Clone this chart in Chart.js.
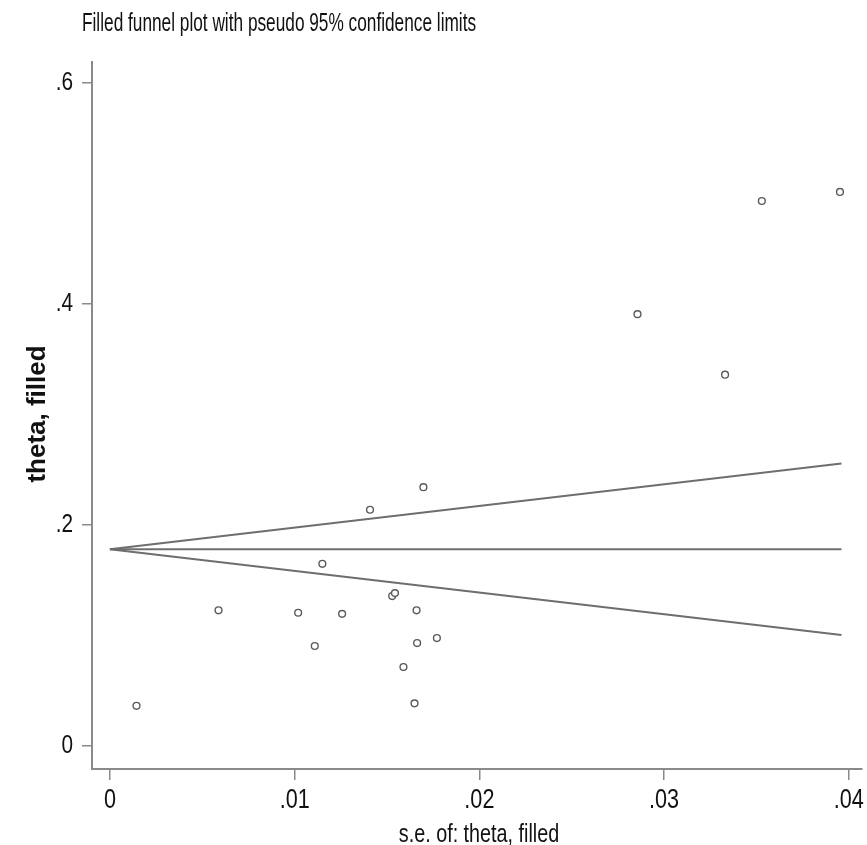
<!DOCTYPE html>
<html>
<head>
<meta charset="utf-8">
<script src="https://cdn.jsdelivr.net/npm/chart.js@4.4.1/dist/chart.umd.min.js"></script>
<style>
html,body{margin:0;padding:0;background:#fff;}
#wrap{width:867px;height:845px;position:relative;}
</style>
</head>
<body>
<div id="wrap"><canvas id="c" width="867" height="845"></canvas></div>
<script>
// ---- data ----
const seValues    = [0.00144, 0.00588, 0.01019, 0.01109, 0.01150, 0.01257, 0.01408, 0.01528, 0.01543, 0.01589, 0.01660, 0.01663, 0.01649, 0.01697, 0.01770, 0.02856, 0.03330, 0.03529, 0.03952];
const thetaValues = [0.0364, 0.1228, 0.1206, 0.0905, 0.1649, 0.1196, 0.2138, 0.1357, 0.1384, 0.0715, 0.1228, 0.0932, 0.0386, 0.2342, 0.0977, 0.3908, 0.3360, 0.4932, 0.5014];
const limitSe     = [0, 0.0396];
const centerTheta = [0.178, 0.178];
const upperLimit  = [0.178, 0.2556];
const lowerLimit  = [0.178, 0.1004];
const xTicks = [0, 0.01, 0.02, 0.03, 0.04];
const xTickLabels = ['0', '.01', '.02', '.03', '.04'];
const yTicks = [0, 0.2, 0.4, 0.6];
const yTickLabels = ['0', '.2', '.4', '.6'];
const titleText = 'Filled funnel plot with pseudo 95% confidence limits';
const xTitle = 's.e. of: theta, filled';
const yTitle = 'theta, filled';

const FONT = "'Liberation Sans', Arial, sans-serif";

const pts = seValues.map((x, i) => ({x, y: thetaValues[i]}));
const line = (ys) => limitSe.map((x, i) => ({x, y: ys[i]}));

// draws text horizontally condensed (like the stretched Stata export)
function drawText(ctx, text, x, y, opts) {
  ctx.save();
  ctx.font = (opts.weight || 'normal') + ' ' + opts.size + 'px ' + FONT;
  ctx.fillStyle = opts.color || '#111';
  ctx.textBaseline = opts.baseline || 'alphabetic';
  ctx.textAlign = opts.align || 'left';
  ctx.translate(x, y);
  if (opts.rotate) ctx.rotate(opts.rotate);
  ctx.scale(opts.sx || 1, 1);
  ctx.fillText(text, 0, 0);
  ctx.restore();
}

const textPlugin = {
  id: 'stataText',
  afterDraw(chart) {
    const ctx = chart.ctx;
    const xs = chart.scales.x, ys = chart.scales.y;
    // title
    drawText(ctx, titleText, 82, 31, {size: 25, sx: 0.69});
    // y tick labels
    yTicks.forEach((v, i) => {
      drawText(ctx, yTickLabels[i], 73, ys.getPixelForValue(v), {size: 26, sx: 0.8, align: 'right', baseline: 'middle'});
    });
    // x tick labels
    xTicks.forEach((v, i) => {
      drawText(ctx, xTickLabels[i], xs.getPixelForValue(v), 808, {size: 27, sx: 0.8, align: 'center'});
    });
    // x axis title
    drawText(ctx, xTitle, 479, 842, {size: 26, sx: 0.76, align: 'center'});
    // y axis title
    drawText(ctx, yTitle, 45, 414, {size: 26, weight: 'bold', align: 'center', rotate: -Math.PI / 2});
  }
};

new Chart(document.getElementById('c'), {
  type: 'scatter',
  data: {
    datasets: [
      { label: 'studies', data: pts, pointStyle: 'circle', pointRadius: 3.4, pointBorderWidth: 1.4,
        borderColor: '#5a5a5a', backgroundColor: '#ffffff', showLine: false, order: 0 },
      { label: 'center', data: line(centerTheta), showLine: true, pointRadius: 0, borderColor: '#6e6e6e', borderWidth: 2, order: 1 },
      { label: 'upper', data: line(upperLimit), showLine: true, pointRadius: 0, borderColor: '#6e6e6e', borderWidth: 2, order: 1 },
      { label: 'lower', data: line(lowerLimit), showLine: true, pointRadius: 0, borderColor: '#6e6e6e', borderWidth: 2, order: 1 }
    ]
  },
  options: {
    responsive: false,
    animation: false,
    devicePixelRatio: 1,
    layout: { padding: { top: 62, right: 1, left: 0, bottom: 0 } },
    plugins: { legend: { display: false }, tooltip: { enabled: false }, title: { display: false } },
    scales: {
      x: {
        type: 'linear', min: -0.000969, max: 0.04069,
        afterBuildTicks(s) { s.ticks = xTicks.map(v => ({value: v})); },
        afterFit(s) { s.height = 76; },
        ticks: { display: false },
        grid: { display: true, drawOnChartArea: false, drawTicks: true, tickLength: 11, color: '#8a8a8a', lineWidth: 1.5 },
        border: { display: true, color: '#8a8a8a', width: 2 },
        title: { display: false }
      },
      y: {
        type: 'linear', min: -0.0208, max: 0.619,
        afterBuildTicks(s) { s.ticks = yTicks.map(v => ({value: v})); },
        afterFit(s) { s.width = 92; },
        ticks: { display: false },
        grid: { display: true, drawOnChartArea: false, drawTicks: true, tickLength: 10, color: '#8a8a8a', lineWidth: 1.5 },
        border: { display: true, color: '#8a8a8a', width: 2 },
        title: { display: false }
      }
    }
  },
  plugins: [textPlugin]
});
</script>
</body>
</html>
